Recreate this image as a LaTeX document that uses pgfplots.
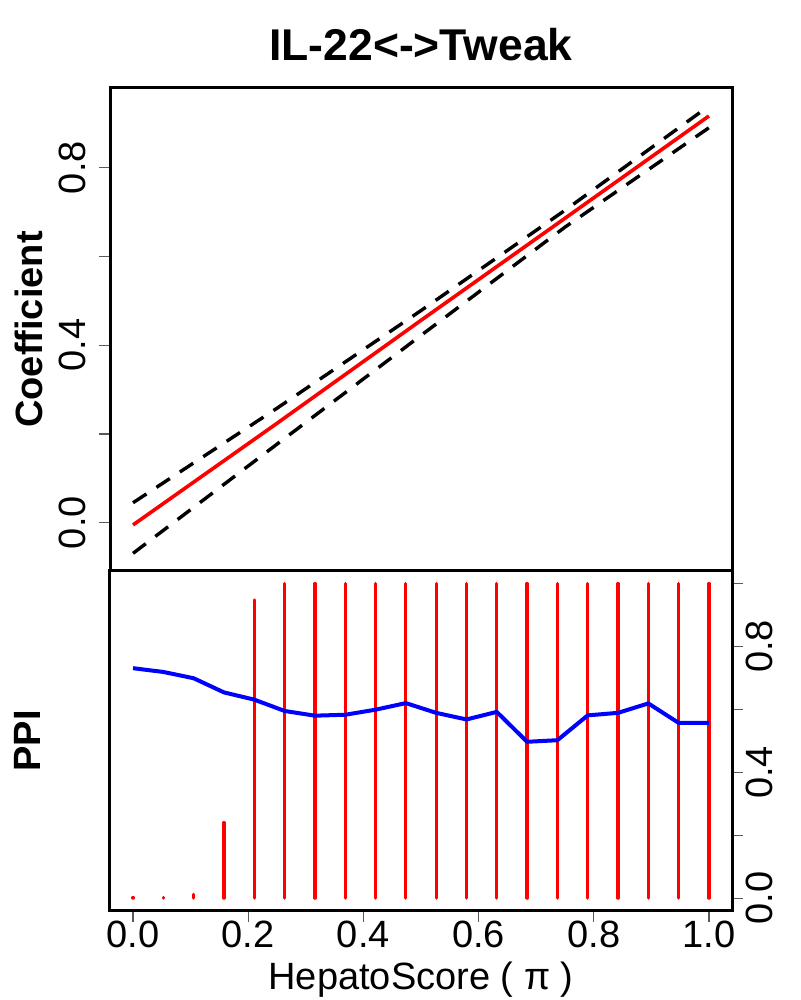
\documentclass[border=0pt]{standalone}
\usepackage{fontspec}
\setmainfont{Liberation Sans}
\usepackage{pgfplots}
\pgfplotsset{compat=1.18}
\begin{document}
\begin{tikzpicture}
\path[use as bounding box] (0,0) rectangle (400pt,500pt);
\begin{axis}[
  at={(55pt,214.5pt)}, anchor=south west, scale only axis,
  width=311pt, height=241.5pt,
  xmin=-0.04, xmax=1.04, ymin=-0.1088, ymax=0.9796,
  axis line style={line width=1.5pt, black},
  xtick=\empty,
  ytick={0,0.2,0.4,0.6,0.8}, yticklabels={0.0,{},0.4,{},0.8},
  ytick pos=left, tick align=outside, major tick length=5.5pt,
  tick style={line width=0.6pt, black!65},
  yticklabel style={font=\fontsize{19}{19}\selectfont, inner sep=0pt, anchor=base, xshift=-7pt, rotate=90},
  every axis y label/.style={at={(axis description cs:-0.1093,0.5)}, anchor=base, inner sep=0pt, rotate=90, font=\fontsize{19}{19}\selectfont\bfseries},
  ylabel={Coefficient},
  every axis title/.style={at={(axis description cs:0.5,1.0565)}, anchor=base, inner sep=0pt, font=\fontsize{22.25}{22.25}\selectfont\bfseries},
  title={IL-22<->Tweak},
]
\addplot[black, line width=1.7pt, dash pattern=on 8pt off 6pt] coordinates {(0,0.045) (0.25,0.258) (0.5,0.478) (0.75,0.704) (1,0.939)};
\addplot[black, line width=1.7pt, dash pattern=on 8pt off 6pt] coordinates {(0,-0.069) (0.25,0.177) (0.5,0.422) (0.75,0.666) (1,0.890)};
\addplot[red, line width=1.8pt] coordinates {(0,-0.005) (0.25,0.224) (0.5,0.456) (0.75,0.686) (1,0.9165)};
\end{axis}
\begin{axis}[
  at={(55pt,44.65pt)}, anchor=south west, scale only axis,
  width=311pt, height=169.85pt,
  xmin=-0.04, xmax=1.04, ymin=-0.04, ymax=1.04,
  axis line style={line width=1.5pt, black},
  xtick={0,0.2,0.4,0.6,0.8,1}, xticklabels={0.0,0.2,0.4,0.6,0.8,1.0},
  xtick pos=left,
  ytick={0,0.2,0.4,0.6,0.8,1}, yticklabels={0.0,{},0.4,{},0.8,{}},
  ytick pos=right, yticklabel pos=right,
  tick align=outside, major tick length=5.5pt,
  tick style={line width=0.6pt, black!65},
  xticklabel style={font=\fontsize{19}{19}\selectfont, inner sep=0pt, anchor=base, yshift=-13.15pt},
  yticklabel style={font=\fontsize{19}{19}\selectfont, inner sep=0pt, anchor=base, xshift=14.5pt, rotate=90},
  every axis y label/.style={at={(axis description cs:-0.1114,0.5)}, anchor=base, inner sep=0pt, rotate=90, font=\fontsize{19}{19}\selectfont\bfseries},
  ylabel={PPI},
  every axis x label/.style={at={(axis description cs:0.5,-0.2334)}, anchor=base, inner sep=0pt, font=\fontsize{19}{19}\selectfont},
  xlabel={HepatoScore ( π )},
]
\addplot[ycomb, red, line width=1.65pt, line cap=round, mark=none] coordinates {
(0,0.002) (0.05263,0.002) (0.10526,0.012) (0.15789,0.24) (0.21053,0.948)
(0.26316,1) (0.31579,1) (0.36842,1) (0.42105,1) (0.47368,1)
(0.52632,1) (0.57895,1) (0.63158,1) (0.68421,1) (0.73684,1)
(0.78947,1) (0.84211,1) (0.89474,1) (0.94737,1) (1,1)};
\addplot[blue, line width=2pt, line join=round, mark=none] coordinates {
(0,0.731) (0.05263,0.719) (0.10526,0.699) (0.15789,0.654) (0.21053,0.631)
(0.26316,0.595) (0.31579,0.580) (0.36842,0.583) (0.42105,0.599) (0.47368,0.620)
(0.52632,0.589) (0.57895,0.568) (0.63158,0.592) (0.68421,0.497) (0.73684,0.502)
(0.78947,0.581) (0.84211,0.589) (0.89474,0.619) (0.94737,0.557) (1,0.557)};
\end{axis}
\end{tikzpicture}
\end{document}
